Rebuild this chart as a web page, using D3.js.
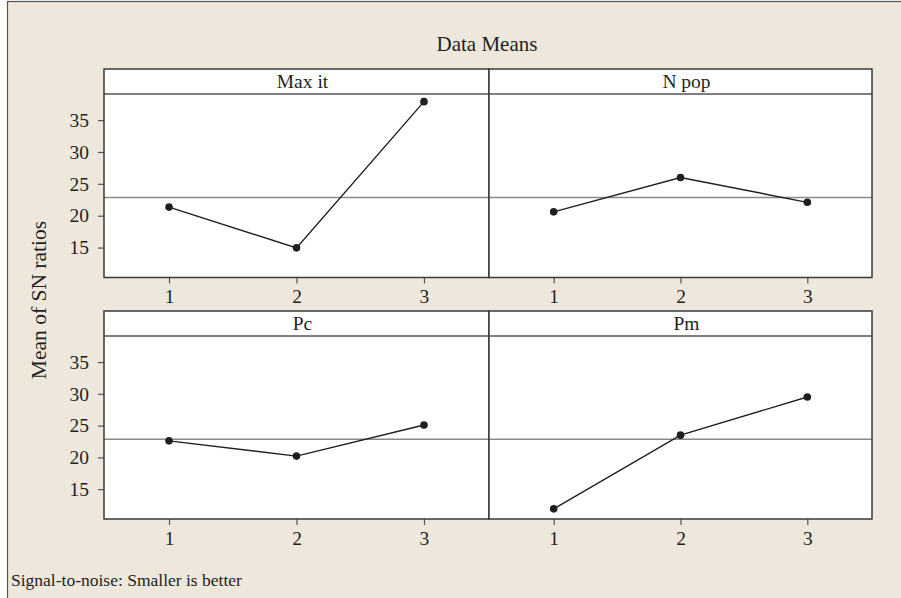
<!DOCTYPE html>
<html>
<head>
<meta charset="utf-8">
<script src="https://cdn.jsdelivr.net/npm/d3@7"></script>
<style>
  html, body { margin: 0; padding: 0; background: #ffffff; }
  svg { display: block; }
  text { font-family: "Liberation Serif", "DejaVu Serif", serif; fill: #231f20; }
</style>
</head>
<body>
<script>
// Main effects plot for SN ratios (data means)
const factors = ["Max it", "N pop", "Pc", "Pm"];
const levels = [1, 2, 3];
const maxItMeans = [21.35, 14.95, 37.9];
const nPopMeans = [20.6, 26.0, 22.1];
const pcMeans = [22.6, 20.2, 25.1];
const pmMeans = [11.9, 23.5, 29.5];
const grandMean = 22.85;
const yTicks = [15, 20, 25, 30, 35];

const seriesByFactor = [maxItMeans, nPopMeans, pcMeans, pmMeans];

const W = 901, H = 598;
const FS = 19.5;
const svg = d3.select("body").append("svg").attr("width", W).attr("height", H);

// outer beige frame
svg.append("rect")
  .attr("x", 7.5).attr("y", 1.5).attr("width", W).attr("height", H + 10)
  .attr("fill", "#eee7dc").attr("stroke", "#555").attr("stroke-width", 1.2);

// panel grid geometry
const colX = [104, 489, 872];
const rows = [
  { stripTop: 69, plotTop: 94, plotBottom: 277.5 },
  { stripTop: 311, plotTop: 336, plotBottom: 519 }
];

const stroke = "#3a3a3a";

svg.append("text")
  .attr("x", 487).attr("y", 51)
  .attr("text-anchor", "middle")
  .attr("font-size", 21)
  .text("Data Means");

svg.append("text")
  .attr("transform", "translate(46,300) rotate(-90)")
  .attr("text-anchor", "middle")
  .attr("font-size", 21.5)
  .text("Mean of SN ratios");

svg.append("text")
  .attr("x", 11).attr("y", 586)
  .attr("font-size", 17.5)
  .text("Signal-to-noise: Smaller is better");

factors.forEach((name, i) => {
  const r = rows[Math.floor(i / 2)];
  const c = i % 2;
  const x0 = colX[c], x1 = colX[c + 1];

  const x = d3.scaleLinear().domain([0.49, 3.51]).range([x0, x1]);
  const y = d3.scaleLinear().domain([10.3, 39.1]).range([r.plotBottom, r.plotTop]);

  const g = svg.append("g");

  // strip + plot background
  g.append("rect")
    .attr("x", x0).attr("y", r.stripTop)
    .attr("width", x1 - x0).attr("height", r.plotBottom - r.stripTop)
    .attr("fill", "#ffffff");

  g.append("text")
    .attr("x", (x0 + x1) / 2 + 6).attr("y", r.stripTop + 19)
    .attr("text-anchor", "middle")
    .attr("font-size", FS)
    .text(name);

  // reference line at the overall mean
  g.append("line")
    .attr("x1", x0).attr("x2", x1)
    .attr("y1", y(grandMean)).attr("y2", y(grandMean))
    .attr("stroke", "#8a8a8a").attr("stroke-width", 1.6);

  // x axis (levels)
  const xAxis = g.append("g")
    .attr("transform", `translate(0,${r.plotBottom})`)
    .call(d3.axisBottom(x).tickValues(levels).tickFormat(d3.format("d")).tickSize(6).tickPadding(6));
  xAxis.select(".domain").remove();
  xAxis.selectAll(".tick line").attr("stroke", "#555").attr("stroke-width", 1.2);
  xAxis.selectAll(".tick text").attr("font-size", FS).attr("font-family", "Liberation Serif, serif").attr("fill", "#231f20");

  // y axis on the left column only
  if (c === 0) {
    const yAxis = g.append("g")
      .attr("transform", `translate(${x0},0)`)
      .call(d3.axisLeft(y).tickValues(yTicks).tickSize(6).tickPadding(9));
    yAxis.select(".domain").remove();
    yAxis.selectAll(".tick line").attr("stroke", "#555").attr("stroke-width", 1.2);
    yAxis.selectAll(".tick text").attr("font-size", FS).attr("font-family", "Liberation Serif, serif").attr("fill", "#231f20");
  }

  // data line and points
  const vals = seriesByFactor[i];
  const pts = levels.map((lv, k) => [lv, vals[k]]);
  g.append("path")
    .datum(pts)
    .attr("fill", "none")
    .attr("stroke", "#1f1f1f").attr("stroke-width", 1.4)
    .attr("d", d3.line().x(d => x(d[0])).y(d => y(d[1])));
  g.selectAll("circle.pt")
    .data(pts).enter().append("circle")
    .attr("class", "pt")
    .attr("cx", d => x(d[0])).attr("cy", d => y(d[1]))
    .attr("r", 3.8).attr("fill", "#1f1f1f");

  // panel borders
  g.append("line")
    .attr("x1", x0).attr("x2", x1).attr("y1", r.plotTop).attr("y2", r.plotTop)
    .attr("stroke", "#555").attr("stroke-width", 1.3);
  g.append("rect")
    .attr("x", x0).attr("y", r.stripTop)
    .attr("width", x1 - x0).attr("height", r.plotBottom - r.stripTop)
    .attr("fill", "none").attr("stroke", stroke).attr("stroke-width", 1.5);
});
</script>
</body>
</html>
